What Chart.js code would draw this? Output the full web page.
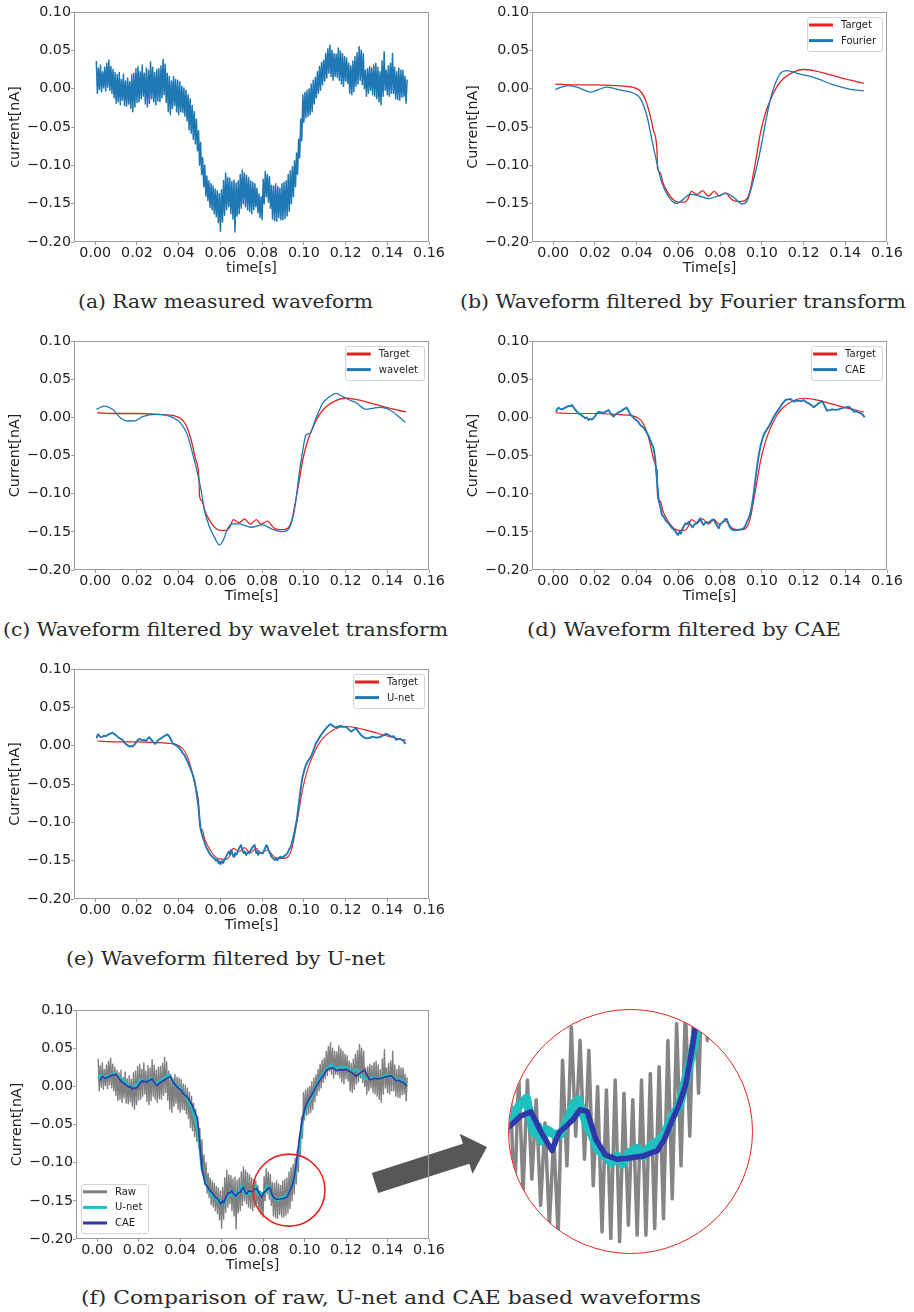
<!DOCTYPE html>
<html>
<head>
<meta charset="utf-8">
<title>Waveform filtering comparison</title>
<script src="https://cdn.jsdelivr.net/npm/chart.js@4.4.0/dist/chart.umd.min.js"></script>
<style>
  html, body { margin: 0; padding: 0; background: #fff; }
  body { width: 914px; height: 1312px; position: relative; overflow: hidden; }
  .panel { position: absolute; }
  #lens { position: absolute; left: 509px; top: 1010px; width: 244px; height: 244px; border-radius: 50%; overflow: hidden; background: #fff; }
  #lens canvas { filter: blur(0.6px); }
  #lensRing { position: absolute; left: 508px; top: 1009px; width: 243px; height: 243px; border: 1.6px solid #e3261f; border-radius: 50%; box-sizing: content-box; pointer-events: none; }
  #overlay { position: absolute; left: 0; top: 0; pointer-events: none; }
</style>
</head>
<body>
<svg id="overlay" width="914" height="1312" xmlns="http://www.w3.org/2000/svg">
  <polygon points="378.2,1193.0 469.3,1163.7 472.5,1173.7 487,1147 459.7,1133.7 462.9,1143.7 371.8,1173.0" fill="#575757"/>
  <g font-family="DejaVu Serif" font-size="18.5" fill="#2a2a2a">
    <text x="78" y="308" textLength="295" lengthAdjust="spacingAndGlyphs">(a) Raw measured waveform</text>
    <text x="460" y="308" textLength="446" lengthAdjust="spacingAndGlyphs">(b) Waveform filtered by Fourier transform</text>
    <text x="3" y="636" textLength="445" lengthAdjust="spacingAndGlyphs">(c) Waveform filtered by wavelet transform</text>
    <text x="527" y="636" textLength="314" lengthAdjust="spacingAndGlyphs">(d) Waveform filtered by CAE</text>
    <text x="66" y="965" textLength="319" lengthAdjust="spacingAndGlyphs">(e) Waveform filtered by U-net</text>
    <text x="81" y="1304" textLength="620" lengthAdjust="spacingAndGlyphs">(f) Comparison of raw, U-net and CAE based waveforms</text>
  </g>
</svg>
<div id="lens"><canvas id="lensCanvas" width="244" height="244"></canvas></div>
<div id="lensRing"></div>
<script>
// ---- axis ticks ----
const xTickValues = [0.00, 0.02, 0.04, 0.06, 0.08, 0.10, 0.12, 0.14, 0.16];
const xTickLabels = ['0.00', '0.02', '0.04', '0.06', '0.08', '0.10', '0.12', '0.14', '0.16'];
const yTickValues = [-0.20, -0.15, -0.10, -0.05, 0.00, 0.05, 0.10];
const yTickLabels = ['\u22120.20', '\u22120.15', '\u22120.10', '\u22120.05', '0.00', '0.05', '0.10'];

// ---- raw measured current, sampled every 0.5 ms from t = 0.5 ms ----
const rawStart = 0.0005;
const rawStep = 0.0005;
const rawCurrent = [
  0.036,-0.006,0.027,-0.001,0.031,-0.004,0.022,0.001,0.028,-0.003,
  0.033,0.002,0.037,-0.002,0.029,-0.006,0.025,-0.012,0.021,-0.019,
  0.018,-0.017,0.021,-0.021,0.012,-0.015,0.019,-0.022,0.010,-0.023,
  0.014,-0.020,0.009,-0.026,0.018,-0.030,0.020,-0.024,0.026,-0.018,
  0.029,-0.017,0.022,-0.013,0.031,-0.010,0.020,-0.020,0.027,-0.024,
  0.024,-0.019,0.035,-0.013,0.028,-0.017,0.021,-0.021,0.025,-0.016,
  0.026,-0.017,0.030,-0.012,0.038,-0.008,0.032,-0.018,0.020,-0.030,
  0.016,-0.034,0.010,-0.026,0.016,-0.022,0.012,-0.030,0.011,-0.034,
  0.009,-0.030,0.003,-0.031,0.001,-0.036,-0.002,-0.042,-0.008,-0.054,
  -0.013,-0.058,-0.022,-0.066,-0.030,-0.072,-0.040,-0.081,-0.055,-0.100,
  -0.070,-0.112,-0.090,-0.128,-0.100,-0.140,-0.114,-0.146,-0.120,-0.155,
  -0.124,-0.158,-0.127,-0.163,-0.131,-0.167,-0.133,-0.175,-0.137,-0.186,
  -0.132,-0.174,-0.120,-0.165,-0.110,-0.158,-0.116,-0.154,-0.117,-0.163,
  -0.121,-0.170,-0.119,-0.187,-0.123,-0.166,-0.120,-0.163,-0.112,-0.156,
  -0.106,-0.150,-0.110,-0.154,-0.113,-0.158,-0.116,-0.160,-0.120,-0.163,
  -0.122,-0.158,-0.124,-0.154,-0.130,-0.162,-0.137,-0.168,-0.141,-0.171,
  -0.118,-0.150,-0.108,-0.141,-0.112,-0.148,-0.115,-0.156,-0.126,-0.170,
  -0.127,-0.172,-0.124,-0.173,-0.128,-0.168,-0.130,-0.171,-0.124,-0.171,
  -0.122,-0.169,-0.120,-0.166,-0.112,-0.160,-0.107,-0.150,-0.102,-0.141,
  -0.094,-0.128,-0.084,-0.112,-0.066,-0.090,-0.040,-0.068,-0.008,-0.044,
  -0.005,-0.038,-0.002,-0.036,0.000,-0.034,0.006,-0.030,0.011,-0.020,
  0.015,-0.012,0.022,-0.006,0.029,-0.002,0.034,0.005,0.037,0.010,
  0.046,0.014,0.052,0.020,0.057,0.016,0.050,0.011,0.046,0.016,
  0.045,0.015,0.053,0.011,0.049,0.006,0.046,0.003,0.042,0.010,
  0.040,0.007,0.033,-0.006,0.030,-0.008,0.036,-0.004,0.042,0.003,
  0.047,0.006,0.055,0.011,0.050,0.005,0.046,0.000,0.024,-0.010,
  0.026,-0.006,0.029,-0.002,0.027,-0.008,0.031,-0.010,0.033,-0.013,
  0.028,-0.017,0.022,-0.021,0.036,-0.010,0.048,-0.002,0.024,-0.008,
  0.030,-0.010,0.033,-0.006,0.046,-0.006,0.028,-0.013,0.022,-0.014,
  0.027,-0.015,0.024,-0.011,0.024,-0.010,0.016,-0.019,0.012
];

// ---- target (clean) waveform ----
const targetTime = [0.001,0.010,0.020,0.030,0.035,0.038,0.040,0.042,0.044,0.046,0.048,0.0497,0.0500,0.0513,0.0525,0.054,0.056,0.058,0.060,0.063,0.0645,0.0662,0.069,0.0716,0.0743,0.0772,0.0794,0.0825,0.0857,0.088,0.0905,0.093,0.0948,0.096,0.0977,0.0993,0.1017,0.104,0.1073,0.1105,0.1153,0.1200,0.1249,0.1329,0.1409,0.1489];
const targetCurrent = [0.006,0.005,0.005,0.004,0.003,0.002,0.000,-0.004,-0.013,-0.030,-0.054,-0.080,-0.104,-0.110,-0.122,-0.131,-0.140,-0.146,-0.148,-0.148,-0.144,-0.134,-0.138,-0.133,-0.140,-0.134,-0.140,-0.136,-0.145,-0.147,-0.147,-0.143,-0.128,-0.110,-0.084,-0.058,-0.032,-0.015,0.003,0.0135,0.022,0.025,0.0235,0.018,0.012,0.007];

// ---- Fourier-filtered waveform ----
const fourierTime = [0.001,0.004,0.0073,0.0121,0.0177,0.022,0.0257,0.0321,0.0385,0.0417,0.045,0.0473,0.0497,0.0521,0.0553,0.0575,0.0593,0.062,0.0657,0.070,0.0745,0.079,0.0828,0.087,0.0905,0.093,0.096,0.0993,0.1017,0.104,0.1065,0.1089,0.1121,0.1169,0.1249,0.1345,0.1424,0.1489];
const fourierCurrent = [-0.001,0.002,0.004,0.0013,-0.0045,-0.001,0.002,-0.002,-0.006,-0.0126,-0.0366,-0.067,-0.097,-0.123,-0.141,-0.148,-0.1496,-0.145,-0.138,-0.140,-0.1435,-0.140,-0.1365,-0.143,-0.1504,-0.146,-0.119,-0.080,-0.045,-0.0148,0.007,0.020,0.0235,0.020,0.0148,0.0048,-0.0008,-0.003];

// ---- wavelet-filtered waveform ----
const waveletTime = [0.0006,0.0043,0.0083,0.0123,0.0155,0.0187,0.0227,0.029,0.0338,0.037,0.041,0.0442,0.0466,0.049,0.0507,0.0523,0.0547,0.0571,0.0595,0.0614,0.0635,0.0659,0.0691,0.0747,0.0802,0.085,0.0898,0.0922,0.0946,0.0962,0.0978,0.0994,0.101,0.103,0.1058,0.109,0.1114,0.1154,0.1186,0.1218,0.125,0.1298,0.133,0.1362,0.1394,0.1426,0.1458,0.1487];
const waveletCurrent = [0.0105,0.0148,0.0105,-0.0013,-0.0048,-0.0048,0.0008,0.004,0.003,0.000,-0.0078,-0.023,-0.047,-0.0733,-0.095,-0.1214,-0.143,-0.157,-0.1673,-0.1607,-0.1454,-0.1397,-0.1397,-0.144,-0.141,-0.1467,-0.1498,-0.148,-0.1323,-0.1083,-0.0733,-0.045,-0.0232,-0.021,-0.0013,0.0184,0.0249,0.0315,0.0271,0.0227,0.0192,0.0105,0.0118,0.0131,0.0118,0.0074,0.000,-0.0066];

// ---- CAE-filtered waveform ----
const caeTime = [0.0013,0.0020,0.0025,0.0033,0.0042,0.0050,0.0058,0.0066,0.0075,0.0082,0.0090,0.0098,0.0106,0.0113,0.0121,0.0130,0.0138,0.0145,0.0153,0.0161,0.0169,0.0177,0.0185,0.0193,0.0201,0.0209,0.0217,0.0225,0.0233,0.0241,0.0249,0.0257,0.0265,0.0273,0.0281,0.0289,0.0297,0.0305,0.0313,0.0321,0.0329,0.0337,0.0345,0.0353,0.0360,0.0366,0.0372,0.0380,0.0386,0.0393,0.0400,0.0408,0.0417,0.0425,0.0433,0.0441,0.0449,0.0457,0.0465,0.0473,0.0481,0.0485,0.0489,0.0493,0.0497,0.0501,0.0505,0.0513,0.0521,0.0529,0.0537,0.0545,0.0553,0.0561,0.0569,0.0577,0.0585,0.0591,0.0598,0.0605,0.0611,0.0617,0.0625,0.0633,0.0641,0.0649,0.0658,0.0668,0.0678,0.0689,0.0697,0.0705,0.0713,0.0721,0.0731,0.0745,0.0757,0.0769,0.0781,0.0793,0.0801,0.0809,0.0817,0.0825,0.0833,0.0843,0.0854,0.0867,0.0881,0.0897,0.0913,0.0921,0.0929,0.0937,0.0945,0.0953,0.0961,0.0969,0.0977,0.0985,0.0993,0.1001,0.1009,0.1021,0.1033,0.1045,0.1057,0.1073,0.1089,0.1101,0.1113,0.1125,0.1137,0.1145,0.1153,0.1165,0.1177,0.1189,0.1200,0.1213,0.1225,0.1237,0.1249,0.1261,0.1273,0.1289,0.1301,0.1313,0.1325,0.1337,0.1353,0.1369,0.1385,0.1401,0.1417,0.1429,0.1441,0.1453,0.1465,0.1477,0.1485,0.1493];
const caeCurrent = [0.0074,0.0110,0.0126,0.0112,0.0104,0.0118,0.0128,0.0139,0.0150,0.0144,0.0161,0.0130,0.0096,0.0078,0.0052,0.0040,0.0018,0.0009,-0.0012,-0.0002,-0.0035,-0.0020,-0.0028,-0.0013,0.0020,0.0048,0.0074,0.0060,0.0068,0.0052,0.0075,0.0082,0.0096,0.0060,0.0030,0.0009,0.0035,0.0050,0.0068,0.0074,0.0092,0.0105,0.0118,0.0126,0.0090,0.0052,0.0031,0.0012,-0.0008,-0.0026,-0.0040,-0.0060,-0.0100,-0.0118,-0.0135,-0.0166,-0.0205,-0.0240,-0.0297,-0.0350,-0.0406,-0.0470,-0.0559,-0.0690,-0.0821,-0.0950,-0.1083,-0.1170,-0.1280,-0.1300,-0.1340,-0.1370,-0.1389,-0.1420,-0.1450,-0.1467,-0.1490,-0.1520,-0.1542,-0.1500,-0.1525,-0.1476,-0.1430,-0.1389,-0.1400,-0.1367,-0.1410,-0.1440,-0.1400,-0.1389,-0.1350,-0.1323,-0.1380,-0.1410,-0.1370,-0.1380,-0.1350,-0.1336,-0.1400,-0.1454,-0.1400,-0.1380,-0.1360,-0.1330,-0.1335,-0.1420,-0.1467,-0.1480,-0.1476,-0.1470,-0.1454,-0.1420,-0.1367,-0.1320,-0.1258,-0.1140,-0.0996,-0.0820,-0.0646,-0.0500,-0.0385,-0.0300,-0.0232,-0.0170,-0.0122,-0.0060,0.0008,0.0075,0.0139,0.0190,0.0227,0.0235,0.0240,0.0225,0.0205,0.0215,0.0218,0.0210,0.0227,0.0200,0.0184,0.0160,0.0131,0.0160,0.0184,0.0214,0.0150,0.0087,0.0095,0.0105,0.0098,0.0105,0.0120,0.0131,0.0139,0.0110,0.0074,0.0080,0.0061,0.0050,0.0030,0.0000];

// ---- U-net-filtered waveform ----
const unetTime = [0.0006,0.0010,0.0014,0.0020,0.0027,0.0035,0.0043,0.0051,0.0059,0.0067,0.0075,0.0083,0.0091,0.0099,0.0107,0.0115,0.0123,0.0131,0.0139,0.0147,0.0155,0.0163,0.0171,0.0179,0.0187,0.0195,0.0203,0.0211,0.0219,0.0227,0.0235,0.0243,0.0251,0.0259,0.0267,0.0276,0.0286,0.0294,0.0301,0.0308,0.0315,0.0323,0.0331,0.0339,0.0347,0.0355,0.0363,0.0371,0.0379,0.0387,0.0395,0.0403,0.0411,0.0419,0.0427,0.0435,0.0445,0.0456,0.0465,0.0475,0.0482,0.0488,0.0494,0.0499,0.0505,0.0510,0.0515,0.0521,0.0531,0.0539,0.0547,0.0555,0.0563,0.0571,0.0579,0.0585,0.0591,0.0595,0.0601,0.0607,0.0613,0.0619,0.0627,0.0635,0.0641,0.0647,0.0651,0.0657,0.0663,0.0667,0.0671,0.0677,0.0683,0.0689,0.0695,0.0699,0.0705,0.0711,0.0717,0.0723,0.0731,0.0739,0.0745,0.0755,0.0764,0.0768,0.0772,0.0777,0.0781,0.0787,0.0795,0.0803,0.0813,0.0818,0.0823,0.0828,0.0833,0.0838,0.0845,0.0853,0.0861,0.0867,0.0873,0.0881,0.0890,0.0897,0.0905,0.0914,0.0922,0.0930,0.0938,0.0946,0.0954,0.0960,0.0966,0.0972,0.0978,0.0986,0.0994,0.1002,0.1010,0.1022,0.1034,0.1046,0.1058,0.1070,0.1082,0.1098,0.1114,0.1122,0.1130,0.1138,0.1146,0.1154,0.1166,0.1178,0.1190,0.1202,0.1214,0.1226,0.1238,0.1250,0.1262,0.1274,0.1286,0.1298,0.1314,0.1330,0.1346,0.1362,0.1378,0.1394,0.1406,0.1418,0.1430,0.1442,0.1454,0.1466,0.1478,0.1487];
const unetCurrent = [0.0096,0.0130,0.0148,0.0128,0.0112,0.0118,0.0130,0.0122,0.0140,0.0150,0.0160,0.0170,0.0150,0.0138,0.0118,0.0098,0.0090,0.0075,0.0040,0.0020,0.0005,-0.0012,-0.0005,-0.0010,0.0010,0.0040,0.0070,0.0088,0.0080,0.0070,0.0075,0.0060,0.0090,0.0110,0.0085,0.0050,0.0023,0.0045,0.0070,0.0085,0.0096,0.0110,0.0125,0.0138,0.0148,0.0120,0.0080,0.0031,0.0020,0.0005,-0.0012,-0.0030,-0.0060,-0.0099,-0.0120,-0.0164,-0.0220,-0.0295,-0.0360,-0.0447,-0.0550,-0.0664,-0.0790,-0.0925,-0.1080,-0.1143,-0.1187,-0.1240,-0.1318,-0.1360,-0.1404,-0.1430,-0.1455,-0.1469,-0.1500,-0.1480,-0.1534,-0.1510,-0.1545,-0.1505,-0.1530,-0.1491,-0.1450,-0.1404,-0.1380,-0.1420,-0.1361,-0.1400,-0.1450,-0.1447,-0.1400,-0.1420,-0.1380,-0.1340,-0.1310,-0.1296,-0.1360,-0.1400,-0.1380,-0.1425,-0.1390,-0.1404,-0.1360,-0.1320,-0.1295,-0.1350,-0.1400,-0.1380,-0.1425,-0.1390,-0.1404,-0.1404,-0.1345,-0.1310,-0.1300,-0.1340,-0.1380,-0.1404,-0.1450,-0.1470,-0.1491,-0.1470,-0.1495,-0.1460,-0.1447,-0.1470,-0.1440,-0.1425,-0.1400,-0.1350,-0.1318,-0.1230,-0.1143,-0.1050,-0.0970,-0.0840,-0.0709,-0.0540,-0.0405,-0.0320,-0.0252,-0.0190,-0.0144,-0.0060,0.0031,0.0085,0.0139,0.0200,0.0248,0.0270,0.0280,0.0260,0.0245,0.0240,0.0250,0.0257,0.0245,0.0248,0.0215,0.0183,0.0205,0.0227,0.0180,0.0139,0.0110,0.0096,0.0100,0.0118,0.0105,0.0110,0.0130,0.0153,0.0140,0.0118,0.0125,0.0074,0.0090,0.0083,0.0060,0.0022];

// ---- styling ----
const INK = '#222222';
const SPINE = '#9a9a9a';
const C_BLUE = '#1f77b4';
const C_RED = '#e3231f';
const C_GRAY = '#808080';
const C_CYAN = '#1fc0c0';
const C_NAVY = '#2e38a8';
const FONT = { family: '"DejaVu Sans"', size: 14.3 };
const X_MIN = -0.0102, X_MAX = 0.16;
const Y_MIN = -0.20, Y_MAX = 0.10;
const AXIS_W = 67, AXIS_H = 35, PAD_T = 10, PAD_R = 20;

const toPoints = (ts, vs) => vs.map((v, i) => ({ x: ts[i], y: v }));
const rawPoints = rawCurrent.map((v, i) => ({ x: +(rawStart + i * rawStep).toFixed(4), y: v }));
const targetPoints = toPoints(targetTime, targetCurrent);
const fourierPoints = toPoints(fourierTime, fourierCurrent);
const waveletPoints = toPoints(waveletTime, waveletCurrent);
const caePoints = toPoints(caeTime, caeCurrent);
const unetPoints = toPoints(unetTime, unetCurrent);

Chart.defaults.font.family = '"DejaVu Sans"';

// axes frame on all four sides
const frame = {
  id: 'frame',
  afterDraw(chart) {
    const a = chart.chartArea, ctx = chart.ctx;
    ctx.save();
    ctx.strokeStyle = SPINE;
    ctx.lineWidth = 1;
    ctx.strokeRect(Math.round(a.left) + 0.5, Math.round(a.top) + 0.5,
                   Math.round(a.right - a.left) - 1, Math.round(a.bottom - a.top) - 1);
    ctx.restore();
  }
};

// framed legend inside the plot area
const boxLegend = {
  id: 'boxLegend',
  afterDatasetsDraw(chart, args, opt) {
    if (!opt || !opt.order) return;
    const ctx = chart.ctx, a = chart.chartArea;
    const items = opt.order.map(i => chart.data.datasets[i]);
    ctx.save();
    ctx.font = '10px "DejaVu Sans"';
    const tw = Math.max(...items.map(d => ctx.measureText(d.label).width));
    const rowH = 15.6;
    const w = 2 + 24 + 8 + tw + 6;
    const h = 8 + rowH * (items.length - 1) + 10;
    let x0, y0;
    if (opt.corner === 'tr') { x0 = a.right - 5 - w; y0 = a.top + 5; }
    else { x0 = a.left + 5; y0 = a.bottom - 6 - h; }
    ctx.beginPath();
    ctx.roundRect(Math.round(x0) + 0.5, Math.round(y0) + 0.5, Math.round(w), Math.round(h), 2.5);
    ctx.fillStyle = 'rgba(255,255,255,0.85)';
    ctx.fill();
    ctx.strokeStyle = '#d4d4d4';
    ctx.lineWidth = 1;
    ctx.stroke();
    items.forEach((d, k) => {
      const y = y0 + 8 + k * rowH;
      ctx.beginPath();
      ctx.moveTo(x0 + 2, y);
      ctx.lineTo(x0 + 26, y);
      ctx.strokeStyle = d.borderColor;
      ctx.lineWidth = 3;
      ctx.stroke();
      ctx.fillStyle = INK;
      ctx.textBaseline = 'middle';
      ctx.textAlign = 'left';
      ctx.fillText(d.label, x0 + 34, y + 0.5);
    });
    ctx.restore();
  }
};

// red ring marking the magnified region
const zoomRing = {
  id: 'zoomRing',
  afterDatasetsDraw(chart, args, opt) {
    if (!opt || opt.x == null) return;
    const ctx = chart.ctx;
    const cx = chart.scales.x.getPixelForValue(opt.x);
    const cy = chart.scales.y.getPixelForValue(opt.y);
    ctx.save();
    ctx.beginPath();
    ctx.arc(cx, cy, opt.r, 0, Math.PI * 2);
    ctx.strokeStyle = '#e3261f';
    ctx.lineWidth = 1.6;
    ctx.stroke();
    ctx.restore();
  }
};

function mountCanvas(left, top, w, h) {
  const d = document.createElement('div');
  d.className = 'panel';
  d.style.cssText = `left:${left}px;top:${top}px;width:${w}px;height:${h}px`;
  const c = document.createElement('canvas');
  c.width = w; c.height = h;
  c.style.width = w + 'px'; c.style.height = h + 'px';
  d.appendChild(c);
  document.body.appendChild(d);
  return c;
}

function axes(xTitle, yTitle) {
  const grid = { drawOnChartArea: false, drawTicks: true, tickLength: 3, color: SPINE };
  return {
    x: {
      type: 'linear', bounds: 'data', min: X_MIN, max: X_MAX,
      afterFit: s => { s.height = AXIS_H; },
      afterBuildTicks: s => { s.ticks = xTickValues.map(v => ({ value: v })); },
      ticks: { autoSkip: false, maxRotation: 0, padding: 0, color: INK, font: FONT, callback: (v, i) => xTickLabels[i] },
      grid, border: { display: false },
      title: { display: true, text: xTitle, color: INK, font: FONT, padding: 0 }
    },
    y: {
      type: 'linear', bounds: 'data', min: Y_MIN, max: Y_MAX,
      afterFit: s => { s.width = AXIS_W; },
      afterBuildTicks: s => { s.ticks = yTickValues.map(v => ({ value: v })); },
      ticks: { autoSkip: false, padding: 0, color: INK, font: FONT, callback: (v, i) => yTickLabels[i] },
      grid, border: { display: false },
      title: { display: true, text: yTitle, color: INK, font: FONT, padding: 0 }
    }
  };
}

function line(label, data, color, width, smooth) {
  return {
    label, data, borderColor: color, backgroundColor: color, borderWidth: width,
    pointRadius: 0, fill: false, tension: 0,
    cubicInterpolationMode: smooth ? 'monotone' : 'default',
    borderJoinStyle: 'round'
  };
}

function panel(plot, xTitle, yTitle, datasets, pluginOpts) {
  const [L, T, R, B] = plot;
  const w = AXIS_W + (R - L) + PAD_R;
  const h = PAD_T + (B - T) + AXIS_H;
  const canvas = mountCanvas(L - AXIS_W, T - PAD_T, w, h);
  return new Chart(canvas, {
    type: 'line',
    data: { datasets },
    options: {
      responsive: false, animation: false, events: [],
      layout: { padding: { top: PAD_T, right: PAD_R, bottom: 0, left: 0 } },
      plugins: Object.assign({ legend: { display: false }, tooltip: { enabled: false } }, pluginOpts || {}),
      scales: axes(xTitle, yTitle)
    },
    plugins: [frame, boxLegend, zoomRing]
  });
}

// (a) raw measured waveform
panel([74, 12, 429, 242], 'time[s]', 'current[nA]',
  [line('Raw', rawPoints, C_BLUE, 1.5, false)]);

// (b) Fourier transform
panel([532, 12, 887, 242], 'Time[s]', 'Current[nA]',
  [line('Fourier', fourierPoints, C_BLUE, 1.3, true), line('Target', targetPoints, C_RED, 1.3, true)],
  { boxLegend: { corner: 'tr', order: [1, 0] } });

// (c) wavelet transform
panel([74, 341, 429, 570], 'Time[s]', 'Current[nA]',
  [line('wavelet', waveletPoints, C_BLUE, 1.3, true), line('Target', targetPoints, C_RED, 1.3, true)],
  { boxLegend: { corner: 'tr', order: [1, 0] } });

// (d) CAE
panel([532, 341, 887, 570], 'Time[s]', 'Current[nA]',
  [line('CAE', caePoints, C_BLUE, 1.9, false), line('Target', targetPoints, C_RED, 1.2, true)],
  { boxLegend: { corner: 'tr', order: [1, 0] } });

// (e) U-net
panel([74, 669, 429, 899], 'Time[s]', 'Current[nA]',
  [line('U-net', unetPoints, C_BLUE, 1.9, false), line('Target', targetPoints, C_RED, 1.1, true)],
  { boxLegend: { corner: 'tr', order: [1, 0] } });

// (f) comparison of raw, U-net and CAE
panel([76, 1010, 429, 1239], 'Time[s]', 'Current[nA]',
  [line('CAE', caePoints, C_NAVY, 1.6, false), line('U-net', unetPoints, C_CYAN, 2.6, false), line('Raw', rawPoints, C_GRAY, 1.4, false)],
  { boxLegend: { corner: 'bl', order: [2, 1, 0] }, zoomRing: { x: 0.0925, y: -0.136, r: 36 } });

// magnified view of the ringed region
const inWindow = p => p.x >= 0.070 && p.x <= 0.0977;
new Chart(document.getElementById('lensCanvas'), {
  type: 'line',
  data: {
    datasets: [
      line('CAE', caePoints.filter(inWindow), C_NAVY, 5.5, false),
      line('U-net', unetPoints.filter(inWindow), C_CYAN, 9, false),
      line('Raw', rawPoints.filter(inWindow), '#858585', 3.5, false)
    ]
  },
  options: {
    responsive: false, animation: false, events: [],
    layout: { padding: 0 },
    plugins: { legend: { display: false }, tooltip: { enabled: false } },
    scales: {
      x: { type: 'linear', bounds: 'data', min: 0.0744, max: 0.1022, display: false },
      y: { type: 'linear', bounds: 'data', min: -0.1767, max: -0.1028, display: false }
    }
  }
});
</script>
</body>
</html>
